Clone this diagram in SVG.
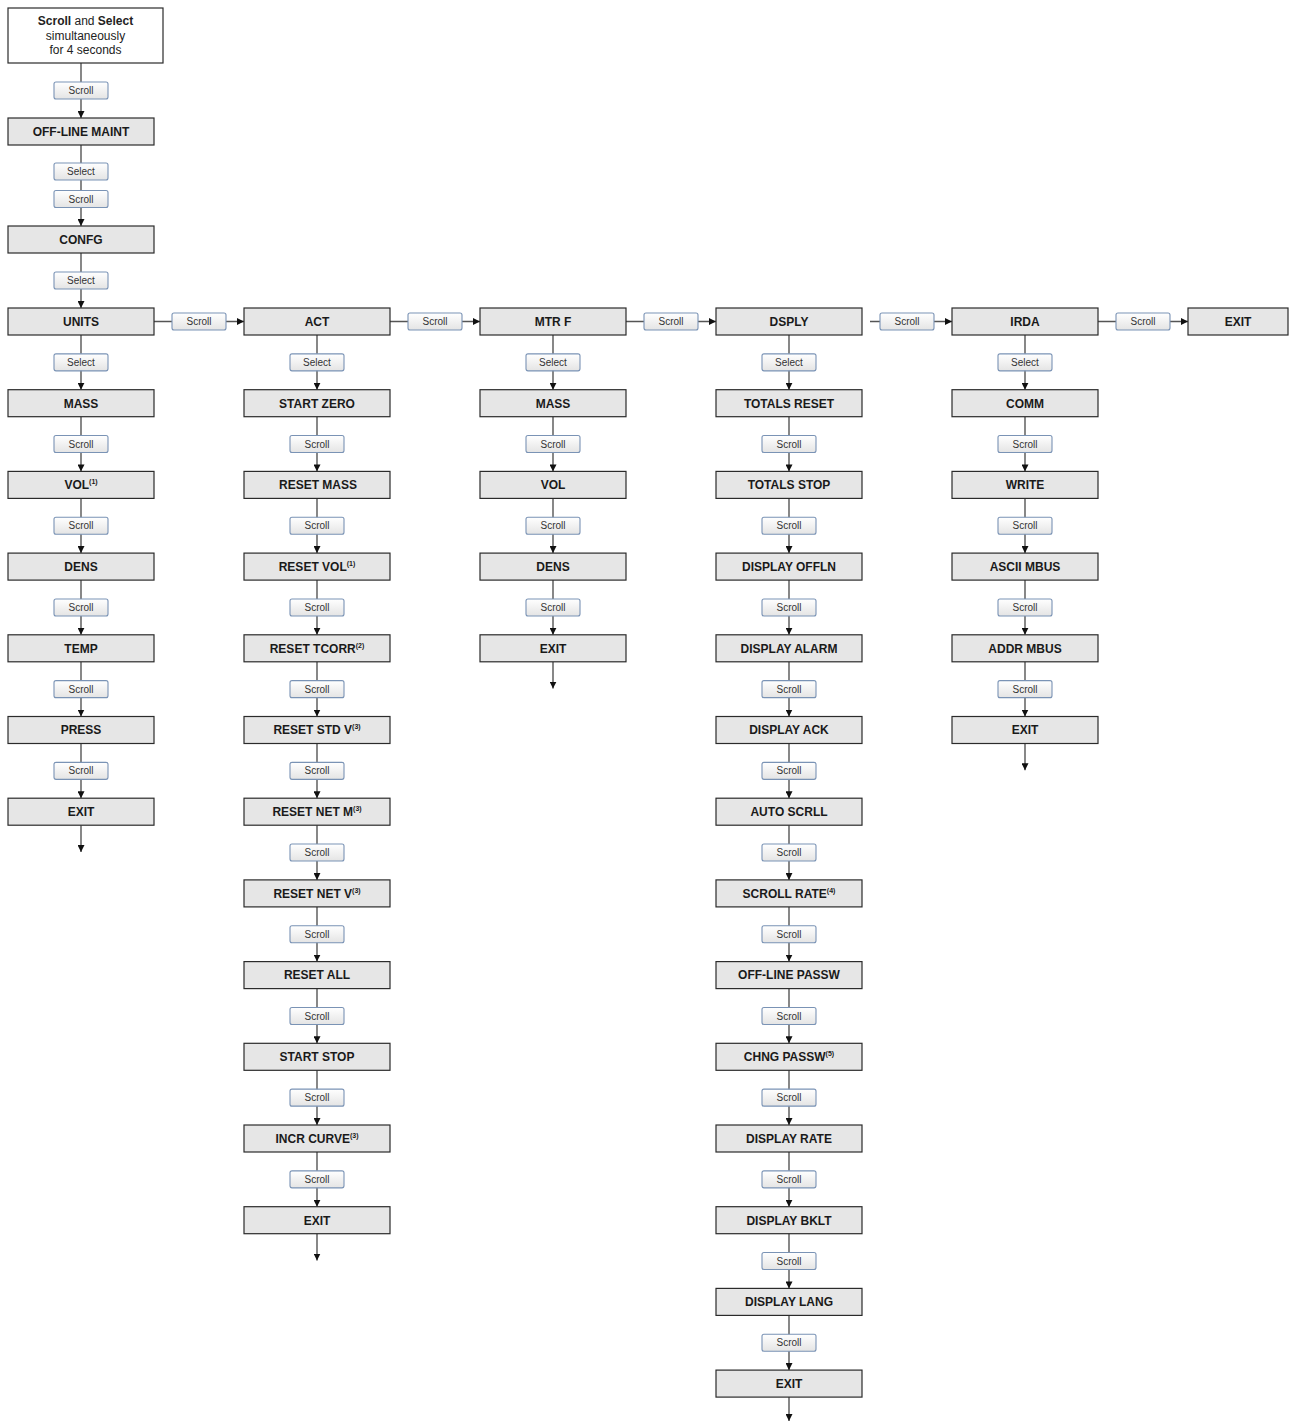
<svg xmlns="http://www.w3.org/2000/svg" width="1291" height="1423" viewBox="0 0 1291 1423">
<defs>
<linearGradient id="bg" x1="0" y1="0" x2="0" y2="1">
<stop offset="0" stop-color="#ffffff"/>
<stop offset="1" stop-color="#e4e4e4"/>
</linearGradient>
<marker id="ah" viewBox="0 0 7 7" refX="7" refY="3.5" markerWidth="7" markerHeight="7" markerUnits="userSpaceOnUse" orient="auto">
<path d="M0,0 L7,3.5 L0,7 z" fill="#111"/>
</marker>
<style>
.n rect{fill:#e6e6e6;stroke:#2b2b2b;stroke-width:1.2}
.n text{font-family:"Liberation Sans",Arial,sans-serif;font-size:12px;font-weight:bold;fill:#1a1a1a;text-anchor:middle}
.n tspan.s{font-size:7px}
.st rect{fill:#ffffff;stroke:#2b2b2b;stroke-width:1.2}
.st text{font-family:"Liberation Sans",Arial,sans-serif;font-size:12px;fill:#222;text-anchor:middle}
.c line{stroke:#555;stroke-width:1.4;marker-end:url(#ah)}
.c line.p{marker-end:none}
.b rect{fill:url(#bg);stroke:#7a93b5;stroke-width:1.1}
.b text{font-family:"Liberation Sans",Arial,sans-serif;font-size:10px;fill:#333;text-anchor:middle}
</style>
</defs>
<rect width="1291" height="1423" fill="#ffffff"/>

<g id="connectors" class="c">
<line x1="81" y1="63" x2="81" y2="118"/>
<line x1="81" y1="145" x2="81" y2="226"/>
<line x1="81" y1="253" x2="81" y2="308"/>
<line x1="154" y1="321.5" x2="244" y2="321.5"/>
<line x1="390" y1="321.5" x2="480" y2="321.5"/>
<line x1="626" y1="321.5" x2="716" y2="321.5"/>
<line x1="870" y1="321.5" x2="952" y2="321.5"/>
<line x1="1098" y1="321.5" x2="1188" y2="321.5"/>
<!-- column 1 -->
<line x1="81" y1="335" x2="81" y2="389.7"/>
<line x1="81" y1="416.7" x2="81" y2="471.4"/>
<line x1="81" y1="498.4" x2="81" y2="553.1"/>
<line x1="81" y1="580.1" x2="81" y2="634.8"/>
<line x1="81" y1="661.8" x2="81" y2="716.5"/>
<line x1="81" y1="743.5" x2="81" y2="798.2"/>
<line x1="81" y1="825.2" x2="81" y2="852"/>
<!-- column 2 -->
<line x1="317" y1="335" x2="317" y2="389.7"/>
<line x1="317" y1="416.7" x2="317" y2="471.4"/>
<line x1="317" y1="498.4" x2="317" y2="553.1"/>
<line x1="317" y1="580.1" x2="317" y2="634.8"/>
<line x1="317" y1="661.8" x2="317" y2="716.5"/>
<line x1="317" y1="743.5" x2="317" y2="798.2"/>
<line x1="317" y1="825.2" x2="317" y2="879.9"/>
<line x1="317" y1="906.9" x2="317" y2="961.6"/>
<line x1="317" y1="988.6" x2="317" y2="1043.3"/>
<line x1="317" y1="1070.3" x2="317" y2="1125"/>
<line x1="317" y1="1152" x2="317" y2="1206.7"/>
<line x1="317" y1="1233.7" x2="317" y2="1260.5"/>
<!-- column 3 -->
<line x1="553" y1="335" x2="553" y2="389.7"/>
<line x1="553" y1="416.7" x2="553" y2="471.4"/>
<line x1="553" y1="498.4" x2="553" y2="553.1"/>
<line x1="553" y1="580.1" x2="553" y2="634.8"/>
<line x1="553" y1="661.8" x2="553" y2="688.6"/>
<!-- column 4 -->
<line x1="789" y1="335" x2="789" y2="389.7"/>
<line x1="789" y1="416.7" x2="789" y2="471.4"/>
<line x1="789" y1="498.4" x2="789" y2="553.1"/>
<line x1="789" y1="580.1" x2="789" y2="634.8"/>
<line x1="789" y1="661.8" x2="789" y2="716.5"/>
<line x1="789" y1="743.5" x2="789" y2="798.2"/>
<line x1="789" y1="825.2" x2="789" y2="879.9"/>
<line x1="789" y1="906.9" x2="789" y2="961.6"/>
<line x1="789" y1="988.6" x2="789" y2="1043.3"/>
<line x1="789" y1="1070.3" x2="789" y2="1125"/>
<line x1="789" y1="1152" x2="789" y2="1206.7"/>
<line x1="789" y1="1233.7" x2="789" y2="1288.4"/>
<line x1="789" y1="1315.4" x2="789" y2="1370.1"/>
<line x1="789" y1="1397.1" x2="789" y2="1421"/>
<!-- column 5 -->
<line x1="1025" y1="335" x2="1025" y2="389.7"/>
<line x1="1025" y1="416.7" x2="1025" y2="471.4"/>
<line x1="1025" y1="498.4" x2="1025" y2="553.1"/>
<line x1="1025" y1="580.1" x2="1025" y2="634.8"/>
<line x1="1025" y1="661.8" x2="1025" y2="716.5"/>
<line x1="1025" y1="743.5" x2="1025" y2="770.3"/>
</g>

<g id="buttons" class="b">
<rect x="54" y="82" width="54" height="17" rx="2"/><text x="81" y="94">Scroll</text>
<rect x="54" y="163" width="54" height="17" rx="2"/><text x="81" y="175">Select</text>
<rect x="54" y="190.5" width="54" height="17" rx="2"/><text x="81" y="202.5">Scroll</text>
<rect x="54" y="272" width="54" height="17" rx="2"/><text x="81" y="284">Select</text>
<!-- horizontal -->
<rect x="172" y="313" width="54" height="17" rx="2"/><text x="199" y="325">Scroll</text>
<rect x="408" y="313" width="54" height="17" rx="2"/><text x="435" y="325">Scroll</text>
<rect x="644" y="313" width="54" height="17" rx="2"/><text x="671" y="325">Scroll</text>
<rect x="880" y="313" width="54" height="17" rx="2"/><text x="907" y="325">Scroll</text>
<rect x="1116" y="313" width="54" height="17" rx="2"/><text x="1143" y="325">Scroll</text>
<!-- col 1 -->
<rect x="54" y="353.85" width="54" height="17" rx="2"/><text x="81" y="365.9">Select</text>
<rect x="54" y="435.55" width="54" height="17" rx="2"/><text x="81" y="447.6">Scroll</text>
<rect x="54" y="517.25" width="54" height="17" rx="2"/><text x="81" y="529.3">Scroll</text>
<rect x="54" y="598.95" width="54" height="17" rx="2"/><text x="81" y="611">Scroll</text>
<rect x="54" y="680.65" width="54" height="17" rx="2"/><text x="81" y="692.7">Scroll</text>
<rect x="54" y="762.35" width="54" height="17" rx="2"/><text x="81" y="774.4">Scroll</text>
<!-- col 2 -->
<rect x="290" y="353.85" width="54" height="17" rx="2"/><text x="317" y="365.9">Select</text>
<rect x="290" y="435.55" width="54" height="17" rx="2"/><text x="317" y="447.6">Scroll</text>
<rect x="290" y="517.25" width="54" height="17" rx="2"/><text x="317" y="529.3">Scroll</text>
<rect x="290" y="598.95" width="54" height="17" rx="2"/><text x="317" y="611">Scroll</text>
<rect x="290" y="680.65" width="54" height="17" rx="2"/><text x="317" y="692.7">Scroll</text>
<rect x="290" y="762.35" width="54" height="17" rx="2"/><text x="317" y="774.4">Scroll</text>
<rect x="290" y="844.05" width="54" height="17" rx="2"/><text x="317" y="856.1">Scroll</text>
<rect x="290" y="925.75" width="54" height="17" rx="2"/><text x="317" y="937.8">Scroll</text>
<rect x="290" y="1007.45" width="54" height="17" rx="2"/><text x="317" y="1019.5">Scroll</text>
<rect x="290" y="1089.15" width="54" height="17" rx="2"/><text x="317" y="1101.2">Scroll</text>
<rect x="290" y="1170.85" width="54" height="17" rx="2"/><text x="317" y="1182.9">Scroll</text>
<!-- col 3 -->
<rect x="526" y="353.85" width="54" height="17" rx="2"/><text x="553" y="365.9">Select</text>
<rect x="526" y="435.55" width="54" height="17" rx="2"/><text x="553" y="447.6">Scroll</text>
<rect x="526" y="517.25" width="54" height="17" rx="2"/><text x="553" y="529.3">Scroll</text>
<rect x="526" y="598.95" width="54" height="17" rx="2"/><text x="553" y="611">Scroll</text>
<!-- col 4 -->
<rect x="762" y="353.85" width="54" height="17" rx="2"/><text x="789" y="365.9">Select</text>
<rect x="762" y="435.55" width="54" height="17" rx="2"/><text x="789" y="447.6">Scroll</text>
<rect x="762" y="517.25" width="54" height="17" rx="2"/><text x="789" y="529.3">Scroll</text>
<rect x="762" y="598.95" width="54" height="17" rx="2"/><text x="789" y="611">Scroll</text>
<rect x="762" y="680.65" width="54" height="17" rx="2"/><text x="789" y="692.7">Scroll</text>
<rect x="762" y="762.35" width="54" height="17" rx="2"/><text x="789" y="774.4">Scroll</text>
<rect x="762" y="844.05" width="54" height="17" rx="2"/><text x="789" y="856.1">Scroll</text>
<rect x="762" y="925.75" width="54" height="17" rx="2"/><text x="789" y="937.8">Scroll</text>
<rect x="762" y="1007.45" width="54" height="17" rx="2"/><text x="789" y="1019.5">Scroll</text>
<rect x="762" y="1089.15" width="54" height="17" rx="2"/><text x="789" y="1101.2">Scroll</text>
<rect x="762" y="1170.85" width="54" height="17" rx="2"/><text x="789" y="1182.9">Scroll</text>
<rect x="762" y="1252.55" width="54" height="17" rx="2"/><text x="789" y="1264.6">Scroll</text>
<rect x="762" y="1334.25" width="54" height="17" rx="2"/><text x="789" y="1346.3">Scroll</text>
<!-- col 5 -->
<rect x="998" y="353.85" width="54" height="17" rx="2"/><text x="1025" y="365.9">Select</text>
<rect x="998" y="435.55" width="54" height="17" rx="2"/><text x="1025" y="447.6">Scroll</text>
<rect x="998" y="517.25" width="54" height="17" rx="2"/><text x="1025" y="529.3">Scroll</text>
<rect x="998" y="598.95" width="54" height="17" rx="2"/><text x="1025" y="611">Scroll</text>
<rect x="998" y="680.65" width="54" height="17" rx="2"/><text x="1025" y="692.7">Scroll</text>
</g>

<g id="start" class="st">
<rect x="8" y="8" width="155" height="55"/>
<text x="85.5" y="25"><tspan font-weight="bold">Scroll</tspan> and <tspan font-weight="bold">Select</tspan></text>
<text x="85.5" y="39.5">simultaneously</text>
<text x="85.5" y="54">for 4 seconds</text>
</g>

<g id="offline-maint" class="n"><rect x="8" y="118" width="146" height="27"/><text x="81" y="135.8">OFF-LINE MAINT</text></g>
<g id="confg" class="n"><rect x="8" y="226" width="146" height="27"/><text x="81" y="243.8">CONFG</text></g>

<g id="units" class="n"><rect x="8" y="308" width="146" height="27"/><text x="81" y="325.8">UNITS</text></g>
<g id="units-mass" class="n"><rect x="8" y="389.7" width="146" height="27"/><text x="81" y="407.5">MASS</text></g>
<g id="units-vol" class="n"><rect x="8" y="471.4" width="146" height="27"/><text x="81" y="489.2">VOL<tspan class="s" dy="-5">(1)</tspan></text></g>
<g id="units-dens" class="n"><rect x="8" y="553.1" width="146" height="27"/><text x="81" y="570.9">DENS</text></g>
<g id="units-temp" class="n"><rect x="8" y="634.8" width="146" height="27"/><text x="81" y="652.6">TEMP</text></g>
<g id="units-press" class="n"><rect x="8" y="716.5" width="146" height="27"/><text x="81" y="734.3">PRESS</text></g>
<g id="units-exit" class="n"><rect x="8" y="798.2" width="146" height="27"/><text x="81" y="816">EXIT</text></g>

<g id="act" class="n"><rect x="244" y="308" width="146" height="27"/><text x="317" y="325.8">ACT</text></g>
<g id="act-start-zero" class="n"><rect x="244" y="389.7" width="146" height="27"/><text x="317" y="407.5">START ZERO</text></g>
<g id="act-reset-mass" class="n"><rect x="244" y="471.4" width="146" height="27"/><text x="318" y="489.2">RESET MASS</text></g>
<g id="act-reset-vol" class="n"><rect x="244" y="553.1" width="146" height="27"/><text x="317" y="570.9">RESET VOL<tspan class="s" dy="-5">(1)</tspan></text></g>
<g id="act-reset-tcorr" class="n"><rect x="244" y="634.8" width="146" height="27"/><text x="317" y="652.6">RESET TCORR<tspan class="s" dy="-5">(2)</tspan></text></g>
<g id="act-reset-std-v" class="n"><rect x="244" y="716.5" width="146" height="27"/><text x="317" y="734.3">RESET STD V<tspan class="s" dy="-5">(3)</tspan></text></g>
<g id="act-reset-net-m" class="n"><rect x="244" y="798.2" width="146" height="27"/><text x="317" y="816">RESET NET M<tspan class="s" dy="-5">(3)</tspan></text></g>
<g id="act-reset-net-v" class="n"><rect x="244" y="879.9" width="146" height="27"/><text x="317" y="897.7">RESET NET V<tspan class="s" dy="-5">(3)</tspan></text></g>
<g id="act-reset-all" class="n"><rect x="244" y="961.6" width="146" height="27"/><text x="317" y="979.4">RESET ALL</text></g>
<g id="act-start-stop" class="n"><rect x="244" y="1043.3" width="146" height="27"/><text x="317" y="1061.1">START STOP</text></g>
<g id="act-incr-curve" class="n"><rect x="244" y="1125" width="146" height="27"/><text x="317" y="1142.8">INCR CURVE<tspan class="s" dy="-5">(3)</tspan></text></g>
<g id="act-exit" class="n"><rect x="244" y="1206.7" width="146" height="27"/><text x="317" y="1224.5">EXIT</text></g>

<g id="mtrf" class="n"><rect x="480" y="308" width="146" height="27"/><text x="553" y="325.8">MTR F</text></g>
<g id="mtrf-mass" class="n"><rect x="480" y="389.7" width="146" height="27"/><text x="553" y="407.5">MASS</text></g>
<g id="mtrf-vol" class="n"><rect x="480" y="471.4" width="146" height="27"/><text x="553" y="489.2">VOL</text></g>
<g id="mtrf-dens" class="n"><rect x="480" y="553.1" width="146" height="27"/><text x="553" y="570.9">DENS</text></g>
<g id="mtrf-exit" class="n"><rect x="480" y="634.8" width="146" height="27"/><text x="553" y="652.6">EXIT</text></g>

<g id="dsply" class="n"><rect x="716" y="308" width="146" height="27"/><text x="789" y="325.8">DSPLY</text></g>
<g id="dsply-totals-reset" class="n"><rect x="716" y="389.7" width="146" height="27"/><text x="789" y="407.5">TOTALS RESET</text></g>
<g id="dsply-totals-stop" class="n"><rect x="716" y="471.4" width="146" height="27"/><text x="789" y="489.2">TOTALS STOP</text></g>
<g id="dsply-display-offln" class="n"><rect x="716" y="553.1" width="146" height="27"/><text x="789" y="570.9">DISPLAY OFFLN</text></g>
<g id="dsply-display-alarm" class="n"><rect x="716" y="634.8" width="146" height="27"/><text x="789" y="652.6">DISPLAY ALARM</text></g>
<g id="dsply-display-ack" class="n"><rect x="716" y="716.5" width="146" height="27"/><text x="789" y="734.3">DISPLAY ACK</text></g>
<g id="dsply-auto-scrll" class="n"><rect x="716" y="798.2" width="146" height="27"/><text x="789" y="816">AUTO SCRLL</text></g>
<g id="dsply-scroll-rate" class="n"><rect x="716" y="879.9" width="146" height="27"/><text x="789" y="897.7">SCROLL RATE<tspan class="s" dy="-5">(4)</tspan></text></g>
<g id="dsply-offline-passw" class="n"><rect x="716" y="961.6" width="146" height="27"/><text x="789" y="979.4">OFF-LINE PASSW</text></g>
<g id="dsply-chng-passw" class="n"><rect x="716" y="1043.3" width="146" height="27"/><text x="789" y="1061.1">CHNG PASSW<tspan class="s" dy="-5">(5)</tspan></text></g>
<g id="dsply-display-rate" class="n"><rect x="716" y="1125" width="146" height="27"/><text x="789" y="1142.8">DISPLAY RATE</text></g>
<g id="dsply-display-bklt" class="n"><rect x="716" y="1206.7" width="146" height="27"/><text x="789" y="1224.5">DISPLAY BKLT</text></g>
<g id="dsply-display-lang" class="n"><rect x="716" y="1288.4" width="146" height="27"/><text x="789" y="1306.2">DISPLAY LANG</text></g>
<g id="dsply-exit" class="n"><rect x="716" y="1370.1" width="146" height="27"/><text x="789" y="1387.9">EXIT</text></g>

<g id="irda" class="n"><rect x="952" y="308" width="146" height="27"/><text x="1025" y="325.8">IRDA</text></g>
<g id="irda-comm" class="n"><rect x="952" y="389.7" width="146" height="27"/><text x="1025" y="407.5">COMM</text></g>
<g id="irda-write" class="n"><rect x="952" y="471.4" width="146" height="27"/><text x="1025" y="489.2">WRITE</text></g>
<g id="irda-ascii-mbus" class="n"><rect x="952" y="553.1" width="146" height="27"/><text x="1025" y="570.9">ASCII MBUS</text></g>
<g id="irda-addr-mbus" class="n"><rect x="952" y="634.8" width="146" height="27"/><text x="1025" y="652.6">ADDR MBUS</text></g>
<g id="irda-exit" class="n"><rect x="952" y="716.5" width="146" height="27"/><text x="1025" y="734.3">EXIT</text></g>

<g id="exit-main" class="n"><rect x="1188" y="308" width="100" height="27"/><text x="1238" y="325.8">EXIT</text></g>
</svg>
